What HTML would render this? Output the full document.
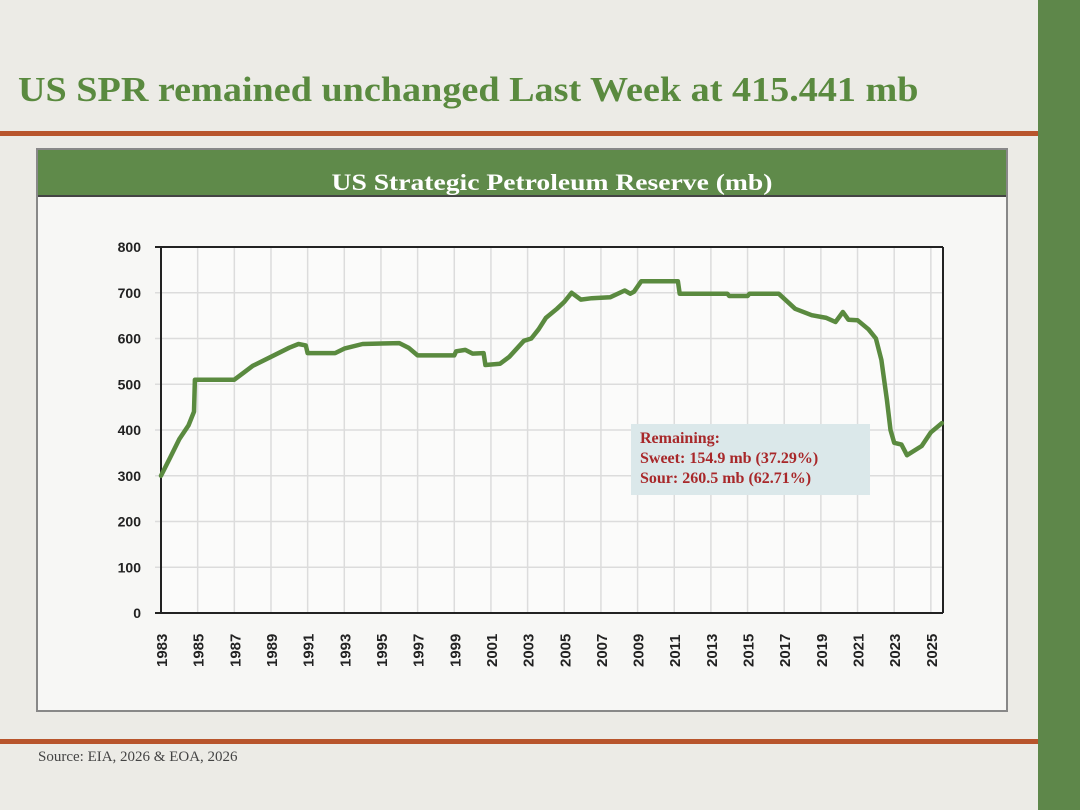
<!DOCTYPE html>
<html><head><meta charset="utf-8"><style>
html,body{margin:0;padding:0;}
body{width:1080px;height:810px;position:relative;background:#ecebe6;overflow:hidden;font-family:"Liberation Serif",serif;}
.abs{position:absolute;}
</style></head><body>
<div class="abs" style="left:1038px;top:0;width:42px;height:810px;background:#5e874a;"></div>
<div class="abs" style="left:18px;top:70px;font-size:35px;font-weight:bold;color:#5a8a3f;white-space:nowrap;transform:scaleX(1.09);transform-origin:left top;">US SPR remained unchanged Last Week at 415.441 mb</div>
<div class="abs" style="left:0;top:131px;width:1038px;height:5px;background:#b8552c;"></div>
<div class="abs" style="left:0;top:739px;width:1038px;height:5px;background:#b8552c;"></div>
<div class="abs" style="left:38px;top:749px;font-size:15px;color:#444;">Source: EIA, 2026 &amp; EOA, 2026</div>
<div class="abs" style="left:36px;top:148px;width:968px;height:560px;border:2px solid #888;background:#f7f7f5;"></div>
<div class="abs" style="left:38px;top:150px;width:968px;height:45px;background:#5f8a4a;border-bottom:2px solid #444;"></div>
<div class="abs" style="left:552px;top:170px;font-size:23px;font-weight:bold;color:#fff;white-space:nowrap;transform:translateX(-50%) scaleX(1.2);">US Strategic Petroleum Reserve (mb)</div>
<svg class="abs" style="left:0;top:0" width="1080" height="810" id="chart"></svg>
<div class="abs" style="left:631px;top:424px;width:239px;height:71px;background:#dbe8ea;color:#a8282a;font-weight:bold;font-size:16px;line-height:20px;padding:5px 0 0 9px;box-sizing:border-box;white-space:nowrap;">Remaining:<br>Sweet: 154.9 mb (37.29%)<br>Sour: 260.5 mb (62.71%)</div>
<script>
const years=[1983,1983.5,1984,1984.5,1984.8,1984.85,1987,1987.5,1988,1989,1990,1990.5,1990.9,1991,1992.5,1993,1994,1996,1996.5,1997,1999,1999.1,1999.6,2000,2000.6,2000.7,2001.5,2002,2002.8,2003.2,2003.6,2004,2004.6,2005.0,2005.4,2005.9,2006.5,2007.5,2008.3,2008.6,2008.8,2009.2,2011.2,2011.3,2013.9,2014.0,2015.0,2015.1,2016.7,2017.6,2018.5,2019.3,2019.8,2020.2,2020.5,2021.0,2021.6,2022.0,2022.3,2022.6,2022.8,2023.0,2023.4,2023.7,2024.5,2025.0,2025.6];
const values=[300,340,380,410,440,510,510,525,540,560,580,588,585,568,568,578,588,590,580,563,563,572,575,567,568,542,545,560,595,600,620,645,665,680,700,685,688,690,705,698,702,725,725,698,698,693,693,698,698,665,651,645,636,658,641,640,620,600,553,466,400,372,368,345,365,395,415];
const yTicks=[0,100,200,300,400,500,600,700,800];
const xTickYears=[1983,1985,1987,1989,1991,1993,1995,1997,1999,2001,2003,2005,2007,2009,2011,2013,2015,2017,2019,2021,2023,2025];
const svg=document.getElementById('chart');const NS='http://www.w3.org/2000/svg';
const X0=161,X1=943,Y0=613,Y1=247;
const xs=y=>X0+(y-1983)*18.33;
const ys=v=>Y0-(v/800)*(Y0-Y1);
function mk(t,a){const e=document.createElementNS(NS,t);for(const k in a)e.setAttribute(k,a[k]);svg.appendChild(e);return e;}
const bg=mk('rect',{x:X0,y:Y1,width:X1-X0,height:Y0-Y1,fill:'#fbfbfa'});


for(let yr=1983;yr<=2025;yr+=2){const l=mk('line',{x1:xs(yr),x2:xs(yr),y1:Y1,y2:Y0,stroke:'#dcdcdc','stroke-width':1.5});

}
yTicks.forEach(v=>{const l=mk('line',{x1:X0-6,x2:X1,y1:ys(v),y2:ys(v),stroke:v==0||v==800?'#222':'#dcdcdc','stroke-width':v==0||v==800?2:1.5});


const t=mk('text',{x:X0-20,y:ys(v)+5,'text-anchor':'end','font-family':'Liberation Sans, sans-serif','font-weight':'bold','font-size':14,fill:'#222'});t.textContent=v;

});
const ax=mk('line',{x1:X0,x2:X0,y1:Y1,y2:Y0,stroke:'#222','stroke-width':2});


const rx=mk('line',{x1:X1,x2:X1,y1:Y1,y2:Y0,stroke:'#222','stroke-width':2});


xTickYears.forEach(yr=>{const x=xs(yr);const t=mk('text',{x:0,y:0,transform:`translate(${x+6},${Y0+54}) rotate(-90)`,'font-family':'Liberation Sans, sans-serif','font-weight':'bold','font-size':15,fill:'#222'});t.textContent=yr;

});
const d=years.map((y,i)=>(i?'L':'M')+xs(y).toFixed(1)+' '+ys(values[i]).toFixed(1)).join(' ');
const p=mk('path',{d:d,fill:'none',stroke:'#5a8a3f','stroke-width':4.5,'stroke-linejoin':'round','stroke-linecap':'round'});


</script>
</body></html>
